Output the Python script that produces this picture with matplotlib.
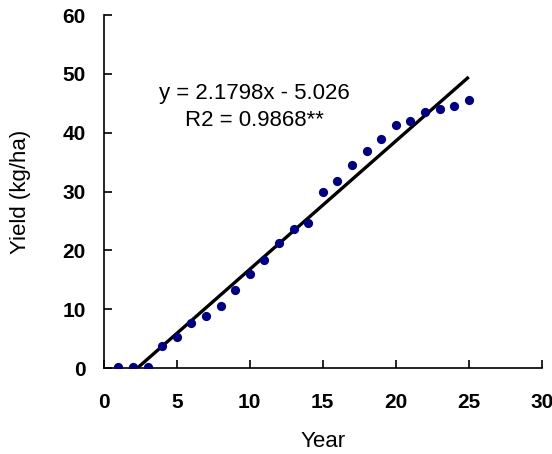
import matplotlib
matplotlib.use("Agg")
import matplotlib.pyplot as plt
import numpy as np

years = [1, 2, 3, 4, 5, 6, 7, 8, 9, 10, 11, 12, 13, 14, 15, 16, 17, 18, 19, 20, 21, 22, 23, 24, 25]
yields = [0.1, 0.1, 0.1, 3.7, 5.2, 7.6, 8.8, 10.5, 13.3, 15.9, 18.3, 21.3, 23.7, 24.6, 30.0,
          31.8, 34.5, 36.9, 38.9, 41.3, 42.0, 43.5, 44.0, 44.6, 45.5]
slope = 2.1798
intercept = -5.026
x_ticks = [0, 5, 10, 15, 20, 25, 30]
y_ticks = [0, 10, 20, 30, 40, 50, 60]

plt.rcParams['font.family'] = ['Liberation Sans', 'DejaVu Sans']

fig = plt.figure(figsize=(5.52, 4.54), dpi=100)
ax = fig.add_axes([0.1879, 0.1894, 0.7935, 0.7775])

ax.scatter(years, yields, s=44, color='#000080', zorder=3, linewidths=0)
x0 = -intercept / slope
xl = np.array([x0, max(years)])
ax.plot(xl, slope * xl + intercept, color='black', linewidth=2.4, zorder=2, solid_capstyle='butt')

ax.set_xlim(0, 30)
ax.set_ylim(0, 60)
ax.set_xticks(x_ticks)
ax.set_yticks(y_ticks)
for s in ['top', 'right']:
    ax.spines[s].set_visible(False)
for s in ['left', 'bottom']:
    ax.spines[s].set_linewidth(1.2)
ax.tick_params(axis='both', direction='in', length=6, width=1.2, labelsize=15)
ax.tick_params(axis='x', pad=18)
ax.tick_params(axis='y', pad=13)
for lab in ax.get_xticklabels() + ax.get_yticklabels():
    lab.set_fontweight('bold')

ax.set_xlabel('Year', fontsize=16, va='center')
ax.set_ylabel('Yield (kg/ha)', fontsize=16, va='center')
ax.xaxis.set_label_coords(0.5, -0.207)
ax.yaxis.set_label_coords(-0.191, 0.5)

eq_lines = ['y = 2.1798x - 5.026', 'R2 = 0.9868**']
eq_pix = [(254, 93), (254, 120)]
for txt, (px, py) in zip(eq_lines, eq_pix):
    fig.text(px / 552, 1 - py / 454, txt, fontsize=16, ha='center', va='center')

fig.savefig('out.png', dpi=100)
